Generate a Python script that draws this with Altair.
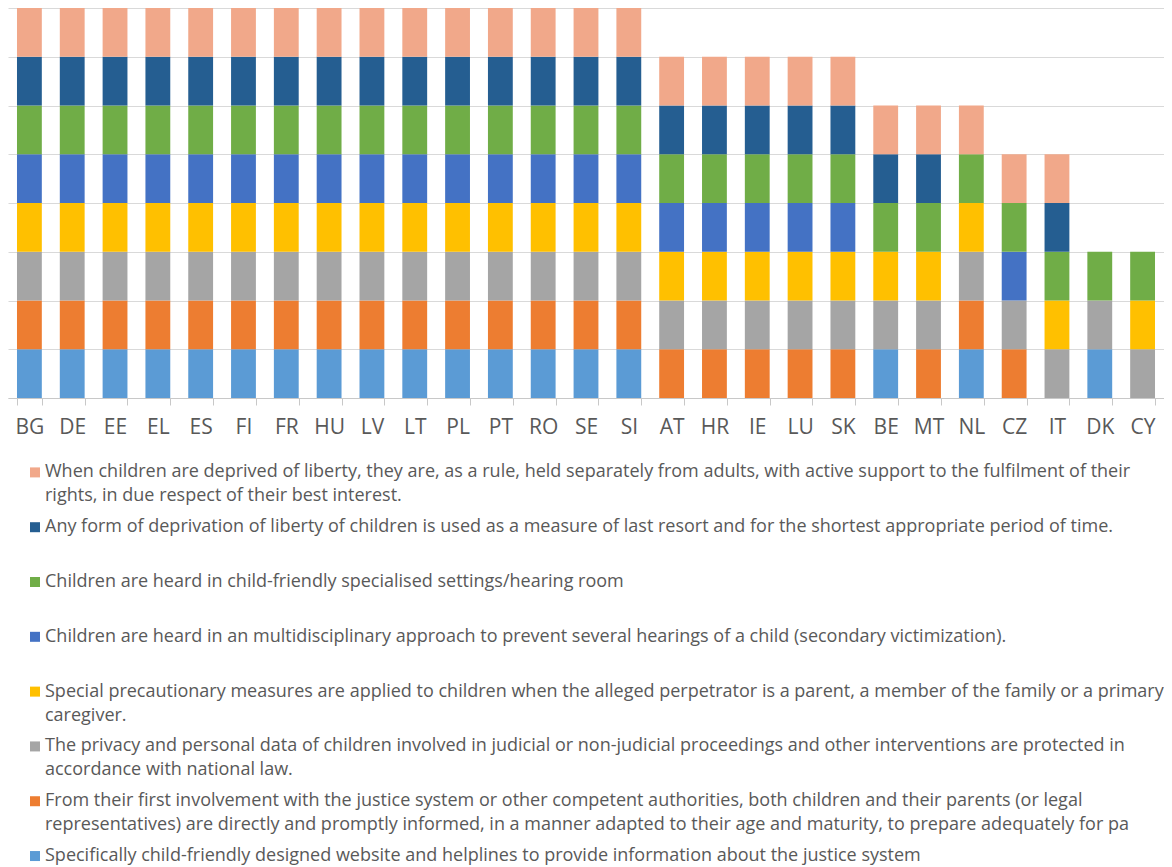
import altair as alt
import pandas as pd

countries = ["BG", "DE", "EE", "EL", "ES", "FI", "FR", "HU", "LV", "LT", "PL", "PT", "RO", "SE", "SI",
             "AT", "HR", "IE", "LU", "SK", "BE", "MT", "NL", "CZ", "IT", "DK", "CY"]

# categories in stacking order (bottom -> top); "\n" marks the legend line wrap
categories = [
    "Specifically child-friendly designed website and helplines to provide information about the justice system",
    "From their first involvement with the justice system or other competent authorities, both children and their parents (or legal\nrepresentatives) are directly and promptly informed, in a manner adapted to their age and maturity, to prepare adequately for pa",
    "The privacy and personal data of children involved in judicial or non-judicial proceedings and other interventions are protected in\naccordance with national law.",
    "Special precautionary measures are applied to children when the alleged perpetrator is a parent, a member of the family or a primary\ncaregiver.",
    "Children are heard in an multidisciplinary approach to prevent several hearings of a child (secondary victimization).",
    "Children are heard in child-friendly specialised settings/hearing room",
    "Any form of deprivation of liberty of children is used as a measure of last resort and for the shortest appropriate period of time.",
    "When children are deprived of liberty, they are, as a rule, held separately from adults, with active support to the fulfilment of their\nrights, in due respect of their best interest.",
]
colors = ["#5B9BD5", "#ED7D31", "#A5A5A5", "#FFC000", "#4472C4", "#70AD47", "#255E91", "#F1A88A"]

all15 = [1] * 15
website = all15 + [0, 0, 0, 0, 0] + [1, 0, 1, 0, 0, 1, 0]
informed = all15 + [1, 1, 1, 1, 1] + [0, 1, 1, 1, 0, 0, 0]
privacy = all15 + [1, 1, 1, 1, 1] + [1, 1, 1, 1, 1, 1, 1]
precaution = all15 + [1, 1, 1, 1, 1] + [1, 1, 1, 0, 1, 0, 1]
multidisc = all15 + [1, 1, 1, 1, 1] + [0, 0, 0, 1, 0, 0, 0]
hearing_room = all15 + [1, 1, 1, 1, 1] + [1, 1, 1, 1, 1, 1, 1]
last_resort = all15 + [1, 1, 1, 1, 1] + [1, 1, 0, 0, 1, 0, 0]
separate = all15 + [1, 1, 1, 1, 1] + [1, 1, 1, 1, 1, 0, 0]

series = [website, informed, privacy, precaution, multidisc, hearing_room, last_resort, separate]

rows = []
for ci, (cat, vals) in enumerate(zip(categories, series)):
    for country, v in zip(countries, vals):
        rows.append({"country": country, "category": cat, "order": ci, "value": v})
df = pd.DataFrame(rows)

FONT = "Open Sans"
TXT = "#595959"
GRID = "#D9D9D9"
W = 1156

color_scale = alt.Scale(domain=categories, range=colors)

bars = alt.Chart(df).transform_filter("datum.value > 0").mark_bar().encode(
    x=alt.X("country:N", sort=countries,
            scale=alt.Scale(paddingInner=0.42, paddingOuter=0.21),
            axis=alt.Axis(title=None, labelAngle=0, labelFontSize=21, labelColor=TXT, labelFont=FONT,
                          domainColor="#C8C8C8", tickColor="#C8C8C8", tickSize=7, labelPadding=11,
                          tickBand="extent", grid=False)),
    y=alt.Y("value:Q", stack="zero", scale=alt.Scale(domain=[0, 8], nice=False),
            axis=alt.Axis(title=None, labels=False, ticks=False, domain=False, grid=True,
                          gridColor=GRID, values=list(range(9)))),
    color=alt.Color("category:N", scale=color_scale, legend=None),
    order=alt.Order("order:Q", sort="ascending"),
).properties(width=W, height=390)

leg_df = pd.DataFrame({"category": categories[::-1], "pos": list(range(len(categories)))})
ypos = alt.Y("pos:Q", scale=alt.Scale(domain=[-0.5, 7.2], reverse=True, nice=False, zero=False), axis=None)

leg_sq = alt.Chart(leg_df).mark_square(size=100, opacity=1).encode(
    x=alt.value(27), y=ypos,
    color=alt.Color("category:N", scale=color_scale, legend=None),
)
leg_tx = alt.Chart(leg_df).mark_text(align="left", baseline="top", dy=-9, fontSize=18, font=FONT,
                                      color=TXT, lineBreak="\n", lineHeight=24).encode(
    x=alt.value(37), y=ypos, text="category:N",
)
legend = alt.layer(leg_sq, leg_tx).properties(width=W, height=int(7.7 * 54.86))

chart = alt.vconcat(bars, legend, spacing=8).properties(padding=0).configure_view(stroke=None)

chart.save("out.html", embed_options={"renderer": "svg", "actions": False})
